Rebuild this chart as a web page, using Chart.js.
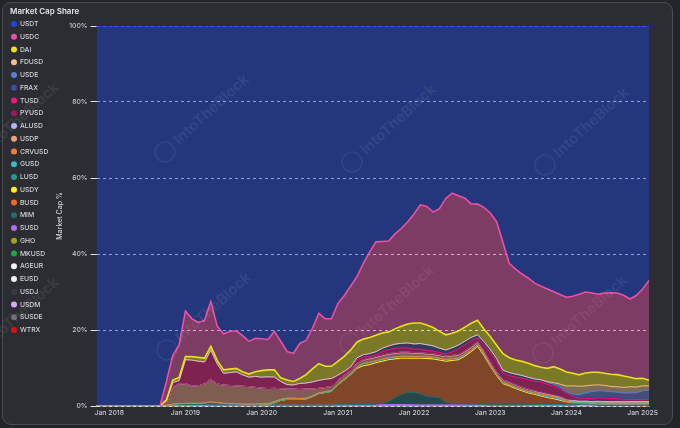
<!DOCTYPE html>
<html>
<head>
<meta charset="utf-8">
<script src="https://cdn.jsdelivr.net/npm/chart.js@4.4.1/dist/chart.umd.min.js"></script>
<style>
  body { margin: 0; background: #222428; }
  #wrap { position: relative; width: 680px; height: 428px; }
  #card {
    position: absolute; left: 2px; top: 2px; width: 669px; height: 421px;
    border: 1px solid #4a4d54; border-radius: 9px; background: #2b2d32;
  }
  #chart { position: absolute; left: 0; top: 0; }
</style>
</head>
<body>
<div id="wrap">
  <div id="card"></div>
  <canvas id="chart" width="680" height="428"></canvas>
</div>
<script>
// monthly categories, Nov 2017 .. Feb 2025
const monthNames = ["Jan", "Feb", "Mar", "Apr", "May", "Jun", "Jul", "Aug", "Sep", "Oct", "Nov", "Dec"];
const months = [];
for (let y = 2017; y <= 2025; y++) {
  for (let m = 0; m < 12; m++) {
    if ((y === 2017 && m < 10) || (y === 2025 && m > 1)) continue;
    months.push(monthNames[m] + " " + y);
  }
}

const yTicks = [0, 20, 40, 60, 80, 100];

// market cap share per coin, % (rows: 2017 Nov-Dec, 2018 ... 2024, 2025 Jan-Feb)
const usdt = [
  100, 100,
  100, 100, 100, 100, 100, 100, 100, 100, 100, 93.6, 86.7, 84,
  75, 77, 78, 77.5, 72.5, 79, 81, 80.4, 80.2, 81.5, 83, 82.2,
  82.3, 82.5, 80.4, 83, 85.7, 86.2, 83.5, 82.8, 79.5, 75.6, 77, 77,
  73, 71, 68.5, 66, 62.5, 59.5, 56.8, 56.7, 56.6, 54.7, 53.3, 51.5,
  49.5, 47.1, 47.5, 49, 48.1, 45.4, 44, 44.7, 45.3, 46.8, 46.9, 47.7,
  49.2, 51.5, 57, 62.5, 64, 65.3, 66.4, 67.7, 68.5, 69.2, 69.9, 70.6,
  71.3, 71.1, 70.6, 70, 70.4, 70.8, 70.5, 70.3, 70.3, 70.8, 71.8, 71,
  69.2, 67,
];
const usdc = [
  0, 0,
  0, 0, 0, 0, 0, 0, 0, 0, 0, 4.8, 6.5, 8.5,
  12, 10, 9.2, 9.9, 11.8, 9, 9.5, 9.9, 9.9, 9.5, 8.6, 8.8,
  8.4, 8, 10.1, 9.6, 7.5, 7.4, 9.2, 9, 10.7, 13.2, 12.5, 12.5,
  15.2, 16, 16.8, 17.2, 19.9, 22.5, 24.6, 24.1, 23.9, 25, 25.7, 26.9,
  28.7, 31.1, 31.2, 30.4, 32.3, 35.9, 36.9, 35.6, 33.9, 31.4, 30.6, 32,
  32.5, 32.5, 29.2, 24.8, 23.9, 23, 22.4, 21.7, 21.3, 20.9, 19.7, 19.6,
  19.6, 20.3, 21.2, 21.3, 20.9, 20.6, 21.2, 21.5, 21.5, 21.2, 20.6, 21.9,
  23.5, 26.2,
];
const dai = [
  0, 0,
  0, 0, 0, 0, 0, 0, 0, 0, 0, 0.3, 0.6, 0.8,
  0.8, 0.9, 1, 1, 1, 0.9, 0.9, 0.9, 0.9, 0.8, 0.8, 1.2,
  1.7, 1.8, 1.9, 1, 1.2, 0.9, 1.3, 2.2, 3.4, 4.4, 3.4, 3.2,
  3.6, 3.9, 4.4, 4.1, 4.1, 4.2, 4.3, 4, 3.7, 4, 4.5, 5,
  5.5, 5.4, 5.2, 4.8, 4.4, 4, 3.8, 3.7, 3.7, 3.7, 3.8, 3.3,
  3.4, 3.5, 4.4, 3.9, 3.7, 3.7, 3.7, 3.5, 3.3, 3.5, 4.2, 4,
  3.7, 3.3, 3, 3.4, 3.4, 3.3, 3.2, 3.2, 3.2, 3, 2.5, 2.2,
  2, 1.5,
];
const fdusd = [
  0, 0,
  0, 0, 0, 0, 0, 0, 0, 0, 0, 0, 0, 0,
  0, 0, 0, 0, 0, 0, 0, 0, 0, 0, 0, 0,
  0, 0, 0, 0, 0, 0, 0, 0, 0, 0, 0, 0,
  0, 0, 0, 0, 0, 0, 0, 0, 0, 0, 0, 0,
  0, 0, 0, 0, 0, 0, 0, 0, 0, 0, 0, 0,
  0, 0, 0, 0, 0, 0, 0, 0, 0, 0.2, 0.4, 0.8,
  1.5, 2.2, 2.2, 1.9, 1.7, 1.6, 1.5, 1.4, 1.4, 1.5, 1.6, 1.5,
  1.3, 1.1,
];
const usde = [
  0, 0,
  0, 0, 0, 0, 0, 0, 0, 0, 0, 0, 0, 0,
  0, 0, 0, 0, 0, 0, 0, 0, 0, 0, 0, 0,
  0, 0, 0, 0, 0, 0, 0, 0, 0, 0, 0, 0,
  0, 0, 0, 0, 0, 0, 0, 0, 0, 0, 0, 0,
  0, 0, 0, 0, 0, 0, 0, 0, 0, 0, 0, 0,
  0, 0, 0, 0, 0, 0, 0, 0, 0, 0, 0, 0,
  0, 0.2, 0.5, 1, 1.4, 1.5, 1.5, 1.4, 1.4, 1.3, 1.4, 1.5,
  2, 2.2,
];
const frax = [
  0, 0,
  0, 0, 0, 0, 0, 0, 0, 0, 0, 0, 0, 0,
  0, 0, 0, 0, 0, 0, 0, 0, 0, 0, 0, 0,
  0, 0, 0, 0, 0, 0, 0, 0, 0, 0, 0, 0.1,
  0.2, 0.3, 0.4, 0.5, 0.6, 0.7, 0.8, 0.9, 1, 1.1, 1.2, 1.3,
  1.4, 1.5, 1.5, 1.4, 1.2, 1.1, 1.1, 1, 1, 0.9, 0.8, 0.8,
  0.8, 0.8, 0.8, 0.8, 0.8, 0.7, 0.7, 0.6, 0.6, 0.5, 0.5, 0.5,
  0.4, 0.4, 0.4, 0.4, 0.4, 0.35, 0.35, 0.35, 0.35, 0.35, 0.3, 0.3,
  0.3, 0.3,
];
const tusd = [
  0, 0,
  0, 0, 0, 0, 0, 0, 0, 0, 0, 0.4, 1.2, 0.9,
  6.3, 6.8, 6.5, 5.8, 7.7, 5.3, 3.1, 3.4, 3.7, 3, 2.5, 2.9,
  2.9, 3.1, 3, 1.9, 1.2, 1.1, 1.6, 1.6, 1.9, 2.1, 2.2, 2,
  1.2, 0.8, 0.6, 1, 0.7, 0.5, 0.5, 0.9, 1, 1.2, 1.1, 1.1,
  0.9, 0.9, 0.8, 0.7, 0.6, 0.5, 0.9, 1.5, 1.6, 1.6, 1, 1.6,
  2.6, 2.7, 1.7, 1.7, 2, 2.4, 2.4, 2.5, 2.6, 2.4, 2.3, 1.9,
  1.5, 0.8, 0.5, 0.3, 0.3, 0.3, 0.3, 0.3, 0.3, 0.25, 0.25, 0.2,
  0.2, 0.2,
];
const pyusd = [
  0, 0,
  0, 0, 0, 0, 0, 0, 0, 0, 0, 0, 0, 0,
  0, 0, 0, 0, 0, 0, 0, 0, 0, 0, 0, 0,
  0, 0, 0, 0, 0, 0, 0, 0, 0, 0, 0, 0,
  0, 0, 0, 0, 0, 0, 0, 0, 0, 0, 0, 0,
  0, 0, 0, 0, 0, 0, 0, 0, 0, 0, 0, 0,
  0, 0, 0, 0, 0, 0, 0, 0.05, 0.1, 0.1, 0.1, 0.1,
  0.1, 0.2, 0.3, 0.4, 0.5, 0.6, 0.6, 0.5, 0.4, 0.3, 0.3, 0.3,
  0.3, 0.3,
];
const alusd = [
  0, 0,
  0, 0, 0, 0, 0, 0, 0, 0, 0, 0, 0, 0,
  0, 0, 0, 0, 0, 0, 0, 0, 0, 0, 0, 0,
  0, 0, 0, 0, 0, 0, 0, 0, 0, 0, 0, 0,
  0, 0, 0, 0, 0.1, 0.2, 0.2, 0.2, 0.2, 0.2, 0.2, 0.2,
  0.2, 0.2, 0.2, 0.2, 0.2, 0.2, 0.2, 0.2, 0.2, 0.2, 0.2, 0.2,
  0.1, 0.1, 0.1, 0.1, 0.1, 0.1, 0.1, 0.1, 0.1, 0.1, 0.1, 0.1,
  0.05, 0.05, 0.05, 0.05, 0.05, 0.05, 0.05, 0.05, 0.05, 0.05, 0.05, 0.05,
  0.05, 0.05,
];
const usdp = [
  0, 0,
  0, 0, 0, 0, 0, 0, 0, 0, 0, 0.7, 4.5, 5.2,
  5.2, 4.6, 4.6, 5, 5.9, 4.9, 4.8, 4.8, 4.7, 4.7, 4.6, 4.4,
  4.1, 4, 3.5, 2.8, 2.4, 2.4, 2.4, 2.4, 1.8, 1.2, 1.1, 1.1,
  1, 1, 0.9, 0.9, 0.9, 0.9, 0.9, 0.9, 0.9, 0.9, 0.9, 0.9,
  0.8, 0.8, 0.7, 0.7, 0.7, 0.7, 0.7, 0.7, 0.7, 0.6, 0.6, 0.6,
  0.6, 0.6, 0.6, 0.6, 0.6, 0.5, 0.5, 0.4, 0.4, 0.4, 0.3, 0.3,
  0.3, 0.2, 0.1, 0.1, 0.1, 0.1, 0.1, 0.1, 0.1, 0.1, 0.1, 0.1,
  0.1, 0.1,
];
const crvusd = [
  0, 0,
  0, 0, 0, 0, 0, 0, 0, 0, 0, 0, 0, 0,
  0, 0, 0, 0, 0, 0, 0, 0, 0, 0, 0, 0,
  0, 0, 0, 0, 0, 0, 0, 0, 0, 0, 0, 0,
  0, 0, 0, 0, 0, 0, 0, 0, 0, 0, 0, 0,
  0, 0, 0, 0, 0, 0, 0, 0, 0, 0, 0, 0,
  0, 0, 0, 0, 0, 0.05, 0.1, 0.1, 0.15, 0.15, 0.2, 0.2,
  0.15, 0.15, 0.1, 0.1, 0.1, 0.1, 0.1, 0.1, 0.1, 0.1, 0.1, 0.1,
  0.1, 0.1,
];
const gusd = [
  0, 0,
  0, 0, 0, 0, 0, 0, 0, 0, 0, 0.2, 0.5, 0.6,
  0.7, 0.7, 0.7, 0.8, 1, 0.8, 0.6, 0.5, 0.5, 0.4, 0.4, 0.4,
  0.4, 0.4, 0.3, 0.3, 0.3, 0.3, 0.2, 0.2, 0.2, 0.2, 0.2, 0.2,
  0.2, 0.2, 0.2, 0.2, 0.2, 0.2, 0.2, 0.2, 0.2, 0.2, 0.2, 0.2,
  0.15, 0.15, 0.15, 0.15, 0.15, 0.15, 0.15, 0.15, 0.15, 0.15, 0.15, 0.15,
  0.1, 0.1, 0.1, 0.1, 0.1, 0.1, 0.1, 0.1, 0.1, 0.1, 0.1, 0.1,
  0.05, 0.05, 0.05, 0.05, 0.05, 0.05, 0.05, 0.05, 0.05, 0.05, 0.05, 0.05,
  0.05, 0.05,
];
const lusd = [
  0, 0,
  0, 0, 0, 0, 0, 0, 0, 0, 0, 0, 0, 0,
  0, 0, 0, 0, 0, 0, 0, 0, 0, 0, 0, 0,
  0, 0, 0, 0, 0, 0, 0, 0, 0, 0, 0, 0,
  0, 0, 0, 0.2, 0.4, 0.4, 0.3, 0.3, 0.3, 0.3, 0.3, 0.3,
  0.3, 0.3, 0.3, 0.3, 0.3, 0.3, 0.3, 0.3, 0.3, 0.3, 0.3, 0.3,
  0.2, 0.2, 0.2, 0.2, 0.2, 0.2, 0.2, 0.2, 0.2, 0.2, 0.2, 0.2,
  0.05, 0.05, 0.05, 0.05, 0.05, 0.05, 0.05, 0.05, 0.05, 0.05, 0.05, 0.05,
  0.05, 0.05,
];
const usdy = [
  0, 0,
  0, 0, 0, 0, 0, 0, 0, 0, 0, 0, 0, 0,
  0, 0, 0, 0, 0, 0, 0, 0, 0, 0, 0, 0,
  0, 0, 0, 0, 0, 0, 0, 0, 0, 0, 0, 0,
  0, 0, 0, 0, 0, 0, 0, 0, 0, 0, 0, 0,
  0, 0, 0, 0, 0, 0, 0, 0, 0, 0, 0, 0,
  0, 0, 0, 0, 0, 0, 0, 0, 0, 0, 0.1, 0.1,
  0.15, 0.2, 0.2, 0.2, 0.2, 0.2, 0.2, 0.2, 0.2, 0.2, 0.2, 0.2,
  0.2, 0.2,
];
const busd = [
  0, 0,
  0, 0, 0, 0, 0, 0, 0, 0, 0, 0, 0, 0,
  0, 0, 0, 0, 0, 0, 0, 0, 0, 0, 0, 0,
  0, 0, 0.6, 1.2, 1.5, 1.5, 1.5, 1.6, 2.2, 3, 3.3, 3.6,
  5.2, 6.5, 7.8, 9.5, 10.2, 10.5, 11, 11.1, 11, 10.2, 9.6, 9,
  9, 9.4, 10, 10, 9.9, 10.9, 11.3, 11.6, 12.5, 13.8, 15.2, 12.8,
  10.2, 7.7, 5.6, 5, 4.3, 3.7, 3.1, 2.7, 2.2, 1.8, 1.4, 1,
  0.7, 0.5, 0.3, 0.2, 0.15, 0.1, 0.05, 0.05, 0.05, 0.05, 0.05, 0.05,
  0.05, 0.05,
];
const mim = [
  0, 0,
  0, 0, 0, 0, 0, 0, 0, 0, 0, 0, 0, 0,
  0, 0, 0, 0, 0, 0, 0, 0, 0, 0, 0, 0,
  0, 0, 0, 0, 0, 0, 0, 0, 0, 0, 0, 0,
  0, 0, 0, 0, 0, 0, 0, 0.3, 0.8, 1.8, 2.6, 3.2,
  3.3, 2.9, 2.2, 2.1, 1.9, 0.6, 0.4, 0.3, 0.3, 0.2, 0.2, 0.2,
  0.15, 0.15, 0.15, 0.15, 0.15, 0.15, 0.15, 0.15, 0.15, 0.15, 0.15, 0.15,
  0.05, 0.05, 0.05, 0.05, 0.05, 0.05, 0.05, 0.05, 0.05, 0.05, 0.05, 0.05,
  0.05, 0.05,
];
const susd = [
  0, 0,
  0, 0, 0, 0, 0, 0, 0, 0, 0, 0, 0, 0,
  0, 0, 0, 0, 0.1, 0.1, 0.1, 0.1, 0.1, 0.1, 0.1, 0.1,
  0.2, 0.2, 0.2, 0.2, 0.2, 0.2, 0.2, 0.2, 0.2, 0.2, 0.2, 0.2,
  0.3, 0.3, 0.3, 0.3, 0.3, 0.3, 0.3, 0.3, 0.3, 0.3, 0.3, 0.3,
  0.2, 0.2, 0.2, 0.2, 0.2, 0.2, 0.2, 0.2, 0.2, 0.2, 0.2, 0.2,
  0.1, 0.1, 0.1, 0.1, 0.1, 0.1, 0.1, 0.1, 0.1, 0.1, 0.1, 0.1,
  0.05, 0.05, 0.05, 0.05, 0.05, 0.05, 0.05, 0.05, 0.05, 0.05, 0.05, 0.05,
  0.05, 0.05,
];
const gho = [
  0, 0,
  0, 0, 0, 0, 0, 0, 0, 0, 0, 0, 0, 0,
  0, 0, 0, 0, 0, 0, 0, 0, 0, 0, 0, 0,
  0, 0, 0, 0, 0, 0, 0, 0, 0, 0, 0, 0,
  0, 0, 0, 0, 0, 0, 0, 0, 0, 0, 0, 0,
  0, 0, 0, 0, 0, 0, 0, 0, 0, 0, 0, 0,
  0, 0, 0, 0, 0, 0, 0, 0.03, 0.05, 0.05, 0.05, 0.05,
  0.05, 0.05, 0.05, 0.05, 0.05, 0.05, 0.05, 0.05, 0.05, 0.05, 0.05, 0.05,
  0.05, 0.05,
];
const mkusd = [
  0, 0,
  0, 0, 0, 0, 0, 0, 0, 0, 0, 0, 0, 0,
  0, 0, 0, 0, 0, 0, 0, 0, 0, 0, 0, 0,
  0, 0, 0, 0, 0, 0, 0, 0, 0, 0, 0, 0,
  0, 0, 0, 0, 0, 0, 0, 0, 0, 0, 0, 0,
  0, 0, 0, 0, 0, 0, 0, 0, 0, 0, 0, 0,
  0, 0, 0, 0, 0, 0, 0, 0, 0.05, 0.05, 0.05, 0.05,
  0.05, 0.05, 0.05, 0.03, 0, 0, 0, 0, 0, 0, 0, 0,
  0, 0,
];
const ageur = [
  0, 0,
  0, 0, 0, 0, 0, 0, 0, 0, 0, 0, 0, 0,
  0, 0, 0, 0, 0, 0, 0, 0, 0, 0, 0, 0,
  0, 0, 0, 0, 0, 0, 0, 0, 0, 0, 0, 0,
  0, 0, 0.05, 0.05, 0.05, 0.05, 0.05, 0.05, 0.05, 0.05, 0.05, 0.05,
  0.05, 0.05, 0.05, 0.05, 0.05, 0.05, 0.05, 0.05, 0.05, 0.05, 0.05, 0.05,
  0.05, 0.05, 0.05, 0.05, 0.05, 0.05, 0.05, 0.05, 0.05, 0.05, 0.05, 0.05,
  0.05, 0.05, 0.05, 0.05, 0.05, 0.05, 0.05, 0.05, 0.05, 0.05, 0.05, 0.05,
  0.05, 0.05,
];
const eusd = [
  0, 0,
  0, 0, 0, 0, 0, 0, 0, 0, 0, 0, 0, 0,
  0, 0, 0, 0, 0, 0, 0, 0, 0, 0, 0, 0,
  0, 0, 0, 0, 0, 0, 0, 0, 0, 0, 0, 0,
  0, 0, 0, 0, 0, 0, 0, 0, 0, 0, 0, 0,
  0, 0, 0, 0, 0, 0, 0, 0, 0, 0, 0, 0,
  0, 0, 0, 0, 0, 0, 0.05, 0.05, 0.05, 0.05, 0.05, 0.05,
  0.05, 0.05, 0.05, 0.05, 0.05, 0.05, 0.05, 0.05, 0.05, 0.05, 0.05, 0.05,
  0.05, 0.05,
];
const usdj = [
  0, 0,
  0, 0, 0, 0, 0, 0, 0, 0, 0, 0, 0, 0,
  0, 0, 0, 0, 0, 0, 0, 0, 0, 0, 0, 0,
  0, 0, 0.05, 0.05, 0.05, 0.05, 0.05, 0.05, 0.05, 0.05, 0.05, 0.05,
  0.05, 0.05, 0.05, 0.05, 0.05, 0.05, 0.05, 0.05, 0.05, 0.05, 0.05, 0.05,
  0.05, 0.05, 0.05, 0.05, 0.05, 0.05, 0.05, 0.05, 0.05, 0.05, 0.05, 0.05,
  0, 0, 0, 0, 0, 0, 0, 0, 0, 0, 0, 0,
  0, 0, 0, 0, 0, 0, 0, 0, 0, 0, 0, 0,
  0, 0,
];
const usdm = [
  0, 0,
  0, 0, 0, 0, 0, 0, 0, 0, 0, 0, 0, 0,
  0, 0, 0, 0, 0, 0, 0, 0, 0, 0, 0, 0,
  0, 0, 0, 0, 0, 0, 0, 0, 0, 0, 0, 0,
  0, 0, 0, 0, 0, 0, 0, 0, 0, 0, 0, 0,
  0, 0, 0, 0, 0, 0, 0, 0, 0, 0, 0, 0,
  0, 0, 0, 0, 0, 0, 0, 0, 0, 0, 0, 0,
  0, 0, 0.05, 0.05, 0.05, 0.05, 0.05, 0.05, 0.05, 0.05, 0.05, 0.05,
  0.05, 0.05,
];
const susde = [
  0, 0,
  0, 0, 0, 0, 0, 0, 0, 0, 0, 0, 0, 0,
  0, 0, 0, 0, 0, 0, 0, 0, 0, 0, 0, 0,
  0, 0, 0, 0, 0, 0, 0, 0, 0, 0, 0, 0,
  0, 0, 0, 0, 0, 0, 0, 0, 0, 0, 0, 0,
  0, 0, 0, 0, 0, 0, 0, 0, 0, 0, 0, 0,
  0, 0, 0, 0, 0, 0, 0, 0, 0, 0, 0, 0,
  0, 0, 0.1, 0.2, 0.2, 0.3, 0.3, 0.3, 0.3, 0.3, 0.3, 0.3,
  0.3, 0.3,
];
const wtrx = [
  0, 0,
  0, 0, 0, 0, 0, 0, 0, 0, 0, 0, 0, 0,
  0, 0, 0, 0, 0, 0, 0, 0, 0, 0, 0, 0,
  0, 0, 0, 0, 0, 0, 0, 0, 0, 0, 0, 0,
  0, 0, 0, 0, 0, 0, 0, 0, 0, 0, 0, 0,
  0, 0, 0, 0, 0, 0, 0, 0, 0, 0, 0, 0,
  0, 0, 0, 0, 0, 0, 0, 0, 0, 0, 0, 0,
  0, 0, 0, 0, 0, 0, 0, 0, 0, 0, 0, 0,
  0, 0,
];

// legend order = top of the stack first
const coins = ["USDT", "USDC", "DAI", "FDUSD", "USDE", "FRAX", "TUSD", "PYUSD", "ALUSD", "USDP",
  "CRVUSD", "GUSD", "LUSD", "USDY", "BUSD", "MIM", "SUSD", "GHO", "MKUSD", "AGEUR",
  "EUSD", "USDJ", "USDM", "SUSDE", "WTRX"];
const shares = [usdt, usdc, dai, fdusd, usde, frax, tusd, pyusd, alusd, usdp,
  crvusd, gusd, lusd, usdy, busd, mim, susd, gho, mkusd, ageur,
  eusd, usdj, usdm, susde, wtrx];

const palette = {
  USDT: [28, 68, 226], USDC: [236, 80, 166], DAI: [232, 226, 26], FDUSD: [240, 192, 138],
  USDE: [91, 127, 214], FRAX: [58, 79, 160], TUSD: [240, 20, 127], PYUSD: [156, 27, 92],
  ALUSD: [168, 184, 240], USDP: [242, 160, 122], CRVUSD: [240, 124, 60], GUSD: [44, 192, 200],
  LUSD: [34, 154, 142], USDY: [255, 240, 26], BUSD: [242, 106, 28], MIM: [30, 110, 110],
  SUSD: [179, 107, 240], GHO: [168, 160, 26], MKUSD: [30, 168, 60], AGEUR: [244, 244, 244],
  EUSD: [238, 240, 255], USDJ: [58, 58, 62], USDM: [216, 168, 240], SUSDE: [106, 106, 110],
  WTRX: [224, 16, 16],
};

// each line sits at the running total of its own share and everything below it
const totals = months.map((_, i) => shares.reduce((s, arr) => s + arr[i], 0));
const datasets = coins.map((name, k) => {
  const [r, g, b] = palette[name];
  return {
    label: name,
    data: months.map((_, i) => {
      let s = 0;
      for (let j = k; j < shares.length; j++) s += shares[j][i];
      return (s / totals[i]) * 100;
    }),
    borderColor: `rgb(${r},${g},${b})`,
    backgroundColor: `rgba(${r},${g},${b},0.42)`,
    borderWidth: k < 3 ? 1.6 : 1,
    fill: k < coins.length - 1 ? "+1" : "origin",
    pointRadius: 0,
    pointHoverRadius: 0,
    tension: 0,
  };
});

const watermark = {
  id: "watermark",
  afterDatasetsDraw(chart) {
    const ctx = chart.ctx;
    const spots = [[-25, 160], [165, 152], [352, 162], [545, 165], [-25, 355], [167, 350], [350, 343], [543, 353]];
    ctx.save();
    ctx.fillStyle = "rgba(255,255,255,0.07)";
    ctx.strokeStyle = "rgba(255,255,255,0.07)";
    ctx.lineWidth = 1.5;
    ctx.font = "bold 15px Inter, sans-serif";
    ctx.textBaseline = "middle";
    for (const [x, y] of spots) {
      ctx.save();
      ctx.translate(x, y);
      ctx.rotate(-0.74);
      ctx.beginPath();
      ctx.arc(0, 0, 10, 0, Math.PI * 2);
      ctx.stroke();
      ctx.fillText("IntoTheBlock", 15, 0);
      ctx.restore();
    }
    ctx.restore();
  },
};

// the legend box clips its own title, so the heading is drawn here instead
const legendHeading = {
  id: "legendHeading",
  afterDraw(chart) {
    const ctx = chart.ctx;
    ctx.save();
    ctx.fillStyle = "#e4e4e7";
    ctx.font = "600 8px Inter, 'Noto Sans', sans-serif";
    ctx.textBaseline = "middle";
    ctx.textAlign = "left";
    ctx.fillText("Market Cap Share", 10, 12);
    ctx.restore();
  },
};

Chart.defaults.font.family = "Inter, 'Noto Sans', sans-serif";

new Chart(document.getElementById("chart"), {
  type: "line",
  data: { labels: months, datasets },
  plugins: [watermark, legendHeading],
  options: {
    responsive: false,
    animation: false,
    events: [],
    layout: { padding: { left: 5.55, top: 2, right: 31, bottom: 10 } },
    plugins: {
      filler: { drawTime: "beforeDatasetsDraw" },
      tooltip: { enabled: false },
      // empty title only reserves the strip above the plot
      title: { display: true, text: "", padding: 0, font: { size: 24, lineHeight: 1 } },
      legend: {
        position: "left",
        align: "start",
        maxWidth: 50,
        // blank title keeps room for the heading drawn by legendHeading
        title: {
          display: true,
          text: "",
          position: "start",
          font: { size: 8, lineHeight: 0.83 },
          padding: { top: 6, bottom: 0 },
        },
        labels: {
          color: "#d4d4d8",
          font: { size: 6.8, weight: "500" },
          padding: 5.95,
          boxWidth: 5,
          boxHeight: 4.24,
          usePointStyle: true,
          generateLabels: (chart) =>
            chart.data.datasets.map((ds, i) => ({
              text: ds.label,
              fillStyle: ds.borderColor,
              strokeStyle: ds.borderColor,
              lineWidth: 0,
              pointStyle: "circle",
              hidden: false,
              datasetIndex: i,
              fontColor: "#d4d4d8",
            })),
        },
      },
    },
    scales: {
      x: {
        grid: { display: false, drawTicks: false, tickLength: 0 },
        border: { display: true, color: "rgba(200,202,210,0.55)", width: 1 },
        ticks: {
          autoSkip: false,
          maxRotation: 0,
          padding: 3,
          color: "#c8c8cd",
          font: { size: 6.8, weight: "500" },
          callback: (v, i) => (months[i].startsWith("Jan") ? months[i] : null),
        },
        afterFit: (scale) => { scale.height = 12; },
      },
      y: {
        min: 0,
        max: 100,
        afterBuildTicks: (scale) => { scale.ticks = yTicks.map((v) => ({ value: v })); },
        grid: { color: "rgba(255,255,255,0.85)", lineWidth: 1, tickLength: 6 },
        border: { display: false, dash: [3, 3] },
        ticks: {
          padding: 3,
          color: "#c8c8cd",
          font: { size: 6.8, weight: "500" },
          callback: (v) => v + "%",
        },
        title: {
          display: true,
          text: "Market Cap %",
          color: "#d4d4d8",
          font: { size: 7, weight: "500" },
          padding: { top: 0, bottom: 0 },
        },
        afterFit: (scale) => { scale.width = 41; },
      },
    },
  },
});
</script>
</body>
</html>
